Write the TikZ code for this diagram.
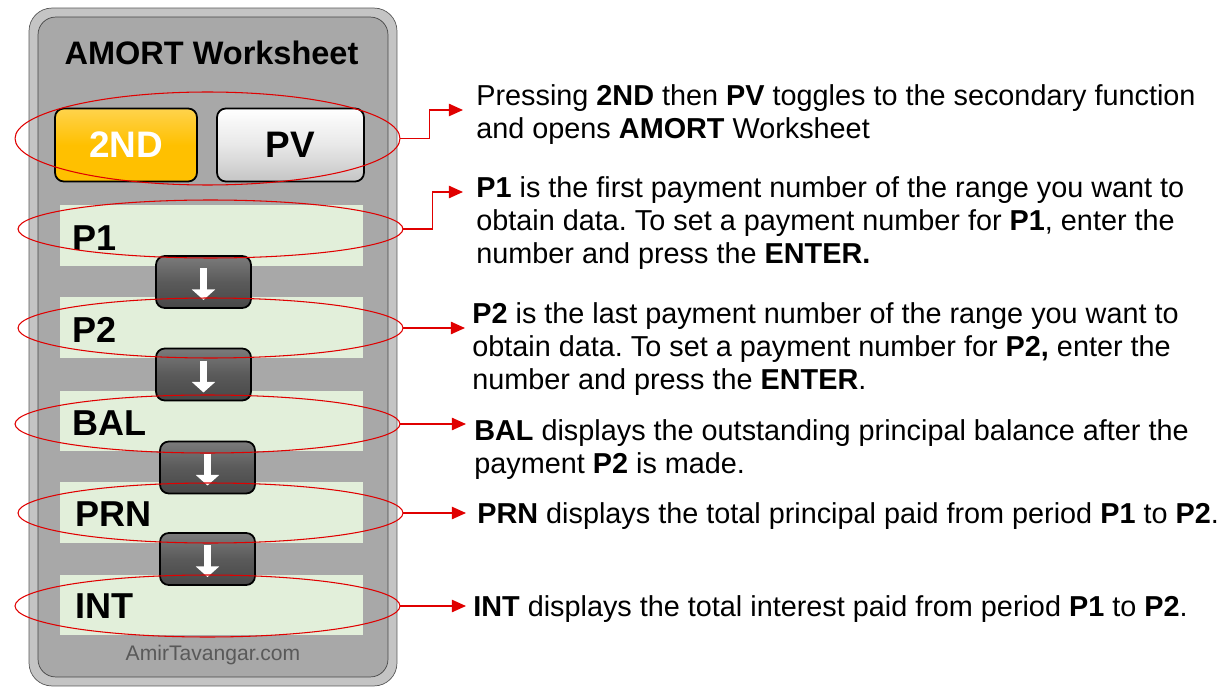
\documentclass[tikz,border=0pt]{standalone}
\usepackage{fontspec}
\setmainfont{Liberation Sans}
\frenchspacing
\usetikzlibrary{shapes.geometric,arrows.meta,positioning,calc}
\definecolor{panelrim}{HTML}{C4C4C4}
\definecolor{panelface}{HTML}{A8A8A8}
\definecolor{lcd}{HTML}{E2EFDA}
\definecolor{keydark}{HTML}{5A5A5A}
\definecolor{keygold}{HTML}{FFC000}
\definecolor{keylight}{HTML}{E8E8E8}
\definecolor{mark}{HTML}{E00000}
\tikzset{
  key/.style={rectangle, draw=black, line width=1pt, rounded corners=5pt, font=\fontsize{21}{24}\selectfont\bfseries},
  fkey/.style={key, top color=keygold!70!white, bottom color=keygold, middle color=keygold, text=white, minimum width=2.84cm, minimum height=1.46cm},
  pkey/.style={key, top color=white, bottom color=keylight!85!black, middle color=keylight, minimum width=2.94cm, minimum height=1.46cm},
  nav/.style={key, top color=keydark!80!white, bottom color=keydark!80!black, middle color=keydark, minimum width=1.9cm, minimum height=1.04cm},
  navarrow/.style={white, line width=3.5pt, -{Triangle[width=13pt,length=6pt]}},
  row/.style={rectangle, fill=lcd, minimum width=6.06cm, minimum height=1.22cm},
  rowlabel/.style={font=\fontsize{20.5}{23}\selectfont\bfseries, inner sep=0pt, anchor=west},
  ring/.style={ellipse, draw=mark, line width=0.6pt, minimum width=7.7cm},
  link/.style={draw=mark, line width=0.8pt, -{Triangle[width=7pt,length=8pt]}},
  desc/.style={font=\fontsize{16.4}{18.8}\selectfont, align=left, inner sep=0pt, anchor=north west}
}

\begin{document}
\begin{tikzpicture}[x=0.02cm, y=-0.02cm]
\useasboundingbox (0,0) rectangle (1226,692);

% calculator panel
\node[rectangle, draw=gray!70!black, fill=panelrim, rounded corners=13pt, minimum width=7.36cm, minimum height=13.56cm] (panel) at (213,347) {};
\node[rectangle, draw=gray!55!black, fill=panelface, rounded corners=10pt, minimum width=7.0cm, minimum height=13.2cm] (face) at (213,347) {};
\node[font=\fontsize{18.5}{20}\selectfont\bfseries] (title) at (211.5,53) {AMORT Worksheet};
\node[font=\fontsize{12}{14}\selectfont, text=black!65] (site) at (213,655) {AmirTavangar.com};

% keys
\node[fkey] (second) at (126,145) {2ND};
\node[pkey] (pv) at (290.5,145) {PV};

% display rows
\node[row] (p1) at (211.5,235.5) {};
\node[row] (p2) at (211.5,327.5) {};
\node[row] (bal) at (211.5,421) {};
\node[row] (prn) at (211.5,512.5) {};
\node[row] (int) at (211.5,605) {};
\node[rowlabel] at (72,238) {P1};
\node[rowlabel] at (72,330) {P2};
\node[rowlabel] at (72,423) {BAL};
\node[rowlabel] at (75,514) {PRN};
\node[rowlabel] at (75,606) {INT};

% down keys
\node[nav] (k1) at (203.5,282) {};
\node[nav] (k2) at (203.5,374.5) {};
\node[nav] (k3) at (207.5,467.5) {};
\node[nav] (k4) at (207.5,559) {};
\foreach \k in {k1,k2,k3,k4}
  \draw[navarrow] ([yshift=0.28cm]\k.center) -- ([yshift=-0.36cm]\k.center);

% highlight rings
\node[ring, minimum height=1.86cm] (e0) at (207.5,138.5) {};
\node[ring, minimum height=1.16cm] (e1) at (210.5,229) {};
\node[ring, minimum height=1.2cm] (e2) at (210.5,328) {};
\node[ring, minimum height=1.16cm] (e3) at (207.5,424) {};
\node[ring, minimum height=1.2cm] (e4) at (210.5,513) {};
\node[ring, minimum height=1.24cm] (e5) at (207.5,606) {};

% descriptions
\node[desc] (d0) at (476,84) {Pressing \textbf{2ND} then \textbf{PV} toggles to the secondary function\\and opens \textbf{AMORT} Worksheet};
\node[desc] (d1) at (476,176) {\textbf{P1} is the first payment number of the range you want to\\obtain data. To set a payment number for \textbf{P1}, enter the\\number and press the \textbf{ENTER.}};
\node[desc] (d2) at (472,302) {\textbf{P2} is the last payment number of the range you want to\\obtain data. To set a payment number for \textbf{P2,} enter the\\number and press the \textbf{ENTER}.};
\node[desc] (d3) at (474,419) {\textbf{BAL} displays the outstanding principal balance after the\\payment \textbf{P2} is made.};
\node[desc] (d4) at (477,502) {\textbf{PRN} displays the total principal paid from period \textbf{P1} to \textbf{P2}.};
\node[desc] (d5) at (473,595) {\textbf{INT} displays the total interest paid from period \textbf{P1} to \textbf{P2}.};

% connectors
\draw[link] (e0.east) -- ++(29,0) |- ([shift={(-13,26)}]d0.north west);
\draw[link] (e1.east) -- ++(29,0) |- ([shift={(-13,16)}]d1.north west);
\draw[link] (e2.east) -- ([shift={(-7,0)}]d2.north west |- e2.east);
\draw[link] (e3.east) -- ([shift={(-8,0)}]d3.north west |- e3.east);
\draw[link] (e4.east) -- ([shift={(-11,0)}]d4.north west |- e4.east);
\draw[link] (e5.east) -- ([shift={(-7,0)}]d5.north west |- e5.east);
\end{tikzpicture}
\end{document}
